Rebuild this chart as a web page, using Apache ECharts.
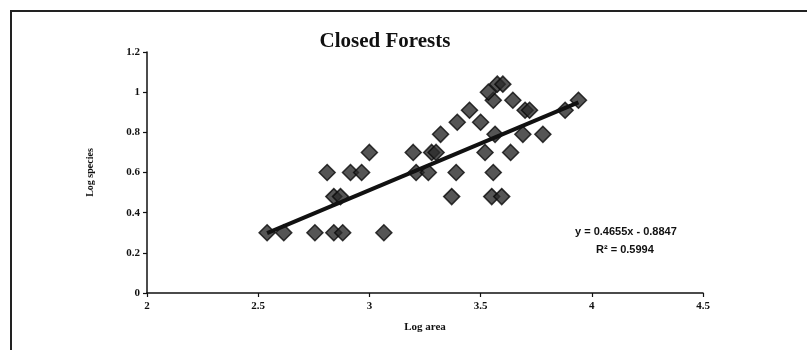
<!DOCTYPE html>
<html>
<head>
<meta charset="utf-8">
<script src="https://cdn.jsdelivr.net/npm/echarts@6/dist/echarts.min.js"></script>
<style>
  html, body { margin: 0; padding: 0; background: #ffffff; }
  #chart { width: 807px; height: 350px; }
</style>
</head>
<body>
<div id="chart"></div>
<script>
// Log area (x) of each closed-forest site
const logArea = [
  2.54, 2.615, 2.755, 2.84, 2.88, 3.065,
  2.84, 2.87, 3.37, 3.55, 3.595,
  2.81, 2.915, 2.965, 3.21, 3.265, 3.39, 3.557,
  3.00, 3.197, 3.28, 3.30, 3.52, 3.635,
  3.32, 3.565, 3.69, 3.78,
  3.395, 3.50,
  3.45, 3.70, 3.72, 3.88,
  3.557, 3.645, 3.94,
  3.535,
  3.575, 3.60
];
// Log species (y) for the same sites
const logSpecies = [
  0.30, 0.30, 0.30, 0.30, 0.30, 0.30,
  0.48, 0.48, 0.48, 0.48, 0.48,
  0.60, 0.60, 0.60, 0.60, 0.60, 0.60, 0.60,
  0.70, 0.70, 0.70, 0.70, 0.70, 0.70,
  0.79, 0.79, 0.79, 0.79,
  0.85, 0.85,
  0.91, 0.91, 0.91, 0.91,
  0.96, 0.96, 0.96,
  1.00,
  1.04, 1.04
];
// Linear trend line coefficients and fit quality
const trendSlope = 0.4655;
const trendIntercept = -0.8847;
const rSquared = 0.5994;

const xTicks = [2, 2.5, 3, 3.5, 4, 4.5];
const yTicks = [0, 0.2, 0.4, 0.6, 0.8, 1, 1.2];

const points = logArea.map((x, i) => [x, logSpecies[i]]);
const xMin = Math.min(...logArea);
const xMax = Math.max(...logArea);
const trendLine = [xMin, xMax].map(x => [x, trendSlope * x + trendIntercept]);

const serif = '"Liberation Serif", "Times New Roman", serif';
const sans = '"Liberation Sans", Arial, sans-serif';

const chart = echarts.init(document.getElementById('chart'), null, { renderer: 'canvas' });

const eqText = 'y = ' + trendSlope.toFixed(4) + 'x - ' + Math.abs(trendIntercept).toFixed(4);
const r2Text = 'R\u00B2 = ' + rSquared.toFixed(4);

chart.setOption({
  backgroundColor: '#ffffff',
  animation: false,
  title: {
    text: 'Closed Forests',
    left: 380,
    top: 26,
    textAlign: 'center',
    textStyle: { fontFamily: serif, fontWeight: 'bold', fontSize: 21, color: '#111' }
  },
  grid: { left: 147, right: 104, top: 52, bottom: 57, containLabel: false },
  xAxis: {
    type: 'value',
    min: xTicks[0],
    max: xTicks[xTicks.length - 1],
    interval: 0.5,
    name: 'Log area',
    nameLocation: 'middle',
    nameGap: 29,
    nameTextStyle: { fontFamily: serif, fontWeight: 'bold', fontSize: 11, color: '#111' },
    axisLine: { show: true, onZero: false, lineStyle: { color: '#111', width: 1.5 } },
    axisTick: { show: true, inside: false, length: 4, lineStyle: { color: '#111', width: 1.2 } },
    axisLabel: { fontFamily: serif, fontWeight: 'bold', fontSize: 11, color: '#111', margin: 8 },
    splitLine: { show: false }
  },
  yAxis: {
    type: 'value',
    min: yTicks[0],
    max: yTicks[yTicks.length - 1],
    interval: 0.2,
    name: 'Log species',
    nameLocation: 'middle',
    nameRotate: 90,
    nameGap: 52,
    nameTextStyle: { fontFamily: serif, fontWeight: 'bold', fontSize: 10, color: '#111' },
    axisLine: { show: true, onZero: false, lineStyle: { color: '#111', width: 1.5 } },
    axisTick: { show: true, inside: false, length: 4, lineStyle: { color: '#111', width: 1.2 } },
    axisLabel: {
      fontFamily: serif, fontWeight: 'bold', fontSize: 11, color: '#111', margin: 7,
      formatter: v => String(Math.round(v * 10) / 10)
    },
    splitLine: { show: false }
  },
  graphic: [
    {
      type: 'rect',
      shape: { x: 11, y: 11, width: 900, height: 500 },
      style: { fill: 'none', stroke: '#222', lineWidth: 2 },
      silent: true
    },
    {
      type: 'text',
      left: 575,
      top: 226,
      style: { text: eqText, fontFamily: sans, fontWeight: 'bold', fontSize: 11, fill: '#111' }
    },
    {
      type: 'text',
      left: 596,
      top: 244,
      style: { text: r2Text, fontFamily: sans, fontWeight: 'bold', fontSize: 11, fill: '#111' }
    }
  ],
  series: [
    {
      type: 'scatter',
      data: points,
      symbol: 'diamond',
      symbolSize: 16,
      itemStyle: { color: '#2a2a2a', borderColor: '#0a0a0a', borderWidth: 1.5 },
      z: 2
    },
    {
      type: 'line',
      data: trendLine,
      symbol: 'none',
      lineStyle: { color: '#111', width: 4 },
      z: 3
    }
  ]
});
</script>
</body>
</html>
